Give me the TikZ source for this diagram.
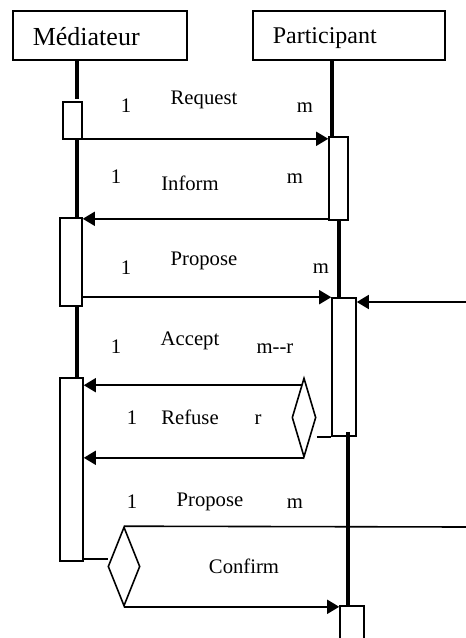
\documentclass[tikz,border=0pt]{standalone}
\usepackage{fontspec}
\setmainfont{Liberation Serif}
\usetikzlibrary{arrows.meta,fit,shapes.geometric,calc}

\begin{document}
\begin{tikzpicture}[x=0.75pt,y=-0.75pt,
  wire/.style={line width=1.2pt},
  life/.style={line width=2.8pt},
  msg/.style={line width=1.2pt,-{Triangle[length=9pt,width=10.5pt]}},
  headbox/.style={draw,line width=1.2pt,rectangle,anchor=north west,
    inner xsep=15pt,inner ysep=0pt,align=left,minimum height=36.75pt,text depth=0pt},
  actbox/.style={draw,line width=1.2pt,inner sep=0pt},
  gate/.style={draw,diamond,line width=1.2pt,inner sep=0pt},
  lbl/.style={font=\fontsize{15.5}{18}\selectfont,anchor=base,inner sep=0pt},
]
\useasboundingbox (0,0) rectangle (466,638);
\clip (0,0) rectangle (466,638);

% object headers
\node[headbox,text width=100.5pt,text height=15.75pt,font=\fontsize{19.5}{22}\selectfont] (med) at (12,10) {Médiateur};
\node[headbox,text width=114pt,text height=12.75pt,font=\fontsize{18}{21}\selectfont] (part) at (252,10) {Participant};

% activation bars
\node[actbox,fit={(63,102)(82,139)}] (a1) {};
\node[actbox,fit={(60,218)(82,306)}] (a2) {};
\node[actbox,fit={(60,378)(83,561)}] (a3) {};
\node[actbox,fit={(329,137)(348,220)}] (p1) {};
\node[actbox,fit={(332,298)(356,436)}] (p2) {};
\node[actbox,fit={(340,606)(364,660)}] (p3) {};

% decision diamonds
\node[gate,minimum width=18pt,minimum height=59.25pt] (d1) at (304,417.5) {};
\node[gate,minimum width=24pt,minimum height=59.25pt] (d2) at (124,566.5) {};

% lifelines
\coordinate (mL) at (77,0);
\coordinate (pA) at (332,0);
\coordinate (pB) at (339,0);
\coordinate (pC) at (348,0);
\draw[life] (mL |- med.south) -- ($(mL |- a1.north)+(0,-2)$);
\draw[life] (mL |- a1.south) -- (mL |- a2.north);
\draw[life] (mL |- a2.south) -- (mL |- a3.north);
\draw[life] (pA |- part.south) -- (pA |- p1.north);
\draw[life] (pB |- p1.south) -- (pB |- p2.north);
\draw[life] ($(pC |- p2.south)+(0,-5)$) -- (pC |- p3.north);

% external connections
\coordinate (ext1) at (466,302);
\coordinate (ext2) at (466,527);

% messages
\draw[msg] ($(a1.south east)+(0,-1)$) -- ($(a1.south east -| p1.west)+(0,-1)$);
\draw[msg] ($(p1.south west)+(0,-2)$) -- ($(p1.south west -| a2.east)+(0,-2)$);
\draw[msg] (p2.north west -| a2.east) -- (p2.north west);
\draw[msg] (ext1) -- (ext1 -| p2.east);
\draw[msg] ($(d1.north)+(-2,8)$) -- ($(d1.north -| a3.east)+(0,8)$);
\draw[msg] (d1.south) -- (d1.south -| a3.east);
\draw[wire] (d1.east |- p2.south) -- (p2.south west);
\draw[wire] ($(a3.south east)+(0,-3)$) -- ($(a3.south east -| d2.west)+(1,-3)$);
\draw[wire] (d2.north) -- (ext2);
\draw[msg] (d2.south) -- (d2.south -| p3.west);

% message labels
\node[lbl] (r1) at (126,113) {1};
\node[lbl] (r2) at (204,105) {Request};
\node[lbl] (r3) at (305,113) {m};
\node[lbl] (i1) at (116,183) {1};
\node[lbl] (i2) at (190,190) {Inform};
\node[lbl] (i3) at (295,183) {m};
\node[lbl] (q1) at (126,274) {1};
\node[lbl] (q2) at (204,265) {Propose};
\node[lbl] (q3) at (321,273) {m};
\node[lbl] (c1) at (116,353) {1};
\node[lbl] (c2) at (190,345) {Accept};
\node[lbl] (c3) at (275,353) {m-{}-r};
\node[lbl] (f1) at (132,424) {1};
\node[lbl] (f2) at (190,424) {Refuse};
\node[lbl] (f3) at (258,424) {r};
\node[lbl] (s1) at (132,508) {1};
\node[lbl] (s2) at (210,506) {Propose};
\node[lbl] (s3) at (295,508) {m};
\node[lbl] (k2) at (244,573) {Confirm};
\end{tikzpicture}
\end{document}
